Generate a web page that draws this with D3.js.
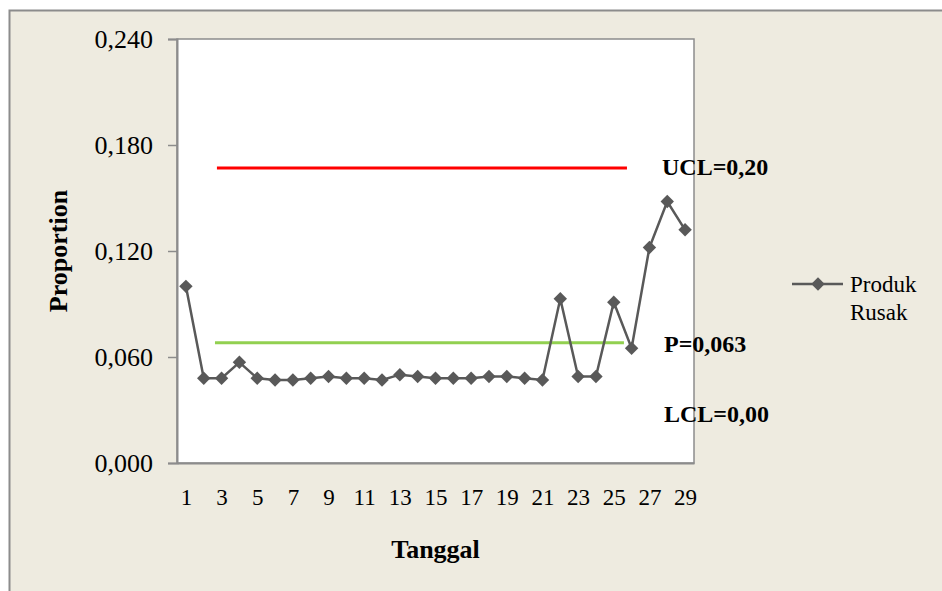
<!DOCTYPE html>
<html>
<head>
<meta charset="utf-8">
<script src="https://cdn.jsdelivr.net/npm/d3@7"></script>
<style>
  body { margin: 0; background: #fff; }
  svg { display: block; font-family: "Times New Roman", "Liberation Serif", serif; }
</style>
</head>
<body>
<svg id="chart" width="942" height="591"></svg>
<script>
const days = d3.range(1, 30)
const produkRusak = [
  0.100, 0.048, 0.048, 0.057, 0.048, 0.047, 0.047, 0.048, 0.049, 0.048,
  0.048, 0.047, 0.050, 0.049, 0.048, 0.048, 0.048, 0.049, 0.049, 0.048,
  0.047, 0.093, 0.049, 0.049, 0.091, 0.065, 0.122, 0.148, 0.132
]
const yTicks = [0, 0.06, 0.12, 0.18, 0.24]
const xTickLabels = d3.range(1, 30, 2)
const ucl = { value: 0.167, from: 2.74, to: 25.74, label: 'UCL=0,20' }
const center = { value: 0.068, from: 2.63, to: 25.57, label: 'P=0,063' }
const lclLabel = 'LCL=0,00'

const svg = d3.select('#chart')
const margin = { top: 39, right: 248, bottom: 128, left: 177 }
const width = 942 - margin.left - margin.right
const height = 591 - margin.top - margin.bottom

const fmt = (v) => d3.format('.3f')(v).replace('.', ',')

// background + outer frame
svg.append('rect').attr('x', 0).attr('y', 0).attr('width', 942).attr('height', 591).attr('fill', '#fff')
svg.append('rect')
  .attr('x', 9.5).attr('y', 10.5).attr('width', 940).attr('height', 590)
  .attr('fill', '#eeebe0').attr('stroke', '#8c8c8c').attr('stroke-width', 2)

const g = svg.append('g').attr('transform', `translate(${margin.left}, ${margin.top})`)

const xScale = d3.scaleLinear().domain([0.5, 29.5]).range([0, width])
const yScale = d3.scaleLinear().domain([0, 0.24]).range([height, 0])

g.append('rect')
  .attr('width', width).attr('height', height)
  .attr('fill', '#fff').attr('stroke', '#8c8c8c').attr('stroke-width', 1.5)

// y axis
const yAxis = g.append('g')
  .call(d3.axisLeft(yScale).tickValues(yTicks).tickSize(9).tickPadding(15).tickFormat(fmt))
yAxis.select('.domain').attr('stroke', '#8c8c8c').attr('stroke-width', 2)
yAxis.selectAll('.tick line').attr('stroke', '#8c8c8c').attr('stroke-width', 1.5)
yAxis.selectAll('.tick text').attr('font-size', 26).attr('fill', '#000')
  .attr('font-family', '"Times New Roman", "Liberation Serif", serif')

// x axis
const xAxis = g.append('g')
  .attr('transform', `translate(0, ${height})`)
  .call(d3.axisBottom(xScale).tickValues(xTickLabels).tickSize(0).tickPadding(26).tickFormat(d3.format('d')))
xAxis.select('.domain').attr('stroke', '#8c8c8c').attr('stroke-width', 2)
xAxis.selectAll('.tick text').attr('font-size', 23).attr('fill', '#000')
  .attr('font-family', '"Times New Roman", "Liberation Serif", serif')

// control lines
const ctrl = [
  { ...ucl, color: '#ff0000' },
  { ...center, color: '#92d050' }
]
g.selectAll('.ctrl')
  .data(ctrl)
  .enter()
  .append('line')
  .attr('class', 'ctrl')
  .attr('x1', (d) => xScale(d.from))
  .attr('x2', (d) => xScale(d.to))
  .attr('y1', (d) => yScale(d.value))
  .attr('y2', (d) => yScale(d.value))
  .attr('stroke', (d) => d.color)
  .attr('stroke-width', 3)

// series
const points = days.map((d, i) => ({ day: d, value: produkRusak[i] }))
const line = d3.line().x((d) => xScale(d.day)).y((d) => yScale(d.value))
g.append('path')
  .datum(points)
  .attr('d', line)
  .attr('fill', 'none')
  .attr('stroke', '#595959')
  .attr('stroke-width', 2.5)

const diamond = d3.symbol().type(d3.symbolSquare).size(90)
g.selectAll('.pt')
  .data(points)
  .enter()
  .append('path')
  .attr('class', 'pt')
  .attr('d', diamond)
  .attr('fill', '#595959')
  .attr('transform', (d) => `translate(${xScale(d.day)}, ${yScale(d.value)}) rotate(45)`)

// labels for control limits
const labels = [
  { text: ucl.label, x: 662, y: 175 },
  { text: center.label, x: 664, y: 352 },
  { text: lclLabel, x: 664, y: 422 }
]
svg.selectAll('.lim')
  .data(labels)
  .enter()
  .append('text')
  .attr('class', 'lim')
  .attr('x', (d) => d.x)
  .attr('y', (d) => d.y)
  .attr('font-size', 24)
  .attr('font-weight', 'bold')
  .text((d) => d.text)

// axis titles
svg.append('text')
  .attr('x', margin.left + width / 2)
  .attr('y', 558)
  .attr('text-anchor', 'middle')
  .attr('font-size', 26)
  .attr('font-weight', 'bold')
  .text('Tanggal')

svg.append('text')
  .attr('transform', `translate(67, ${margin.top + height / 2}) rotate(-90)`)
  .attr('text-anchor', 'middle')
  .attr('font-size', 26)
  .attr('font-weight', 'bold')
  .text('Proportion')

// legend
const legend = svg.append('g').attr('transform', 'translate(792, 284)')
legend.append('line').attr('x1', 0).attr('x2', 51).attr('stroke', '#595959').attr('stroke-width', 2.5)
legend.append('path').attr('d', diamond).attr('fill', '#595959').attr('transform', 'translate(26, 0) rotate(45)')
legend.append('text').attr('x', 58).attr('y', 8).attr('font-size', 23).text('Produk')
legend.append('text').attr('x', 58).attr('y', 36).attr('font-size', 23).text('Rusak')
</script>
</body>
</html>
